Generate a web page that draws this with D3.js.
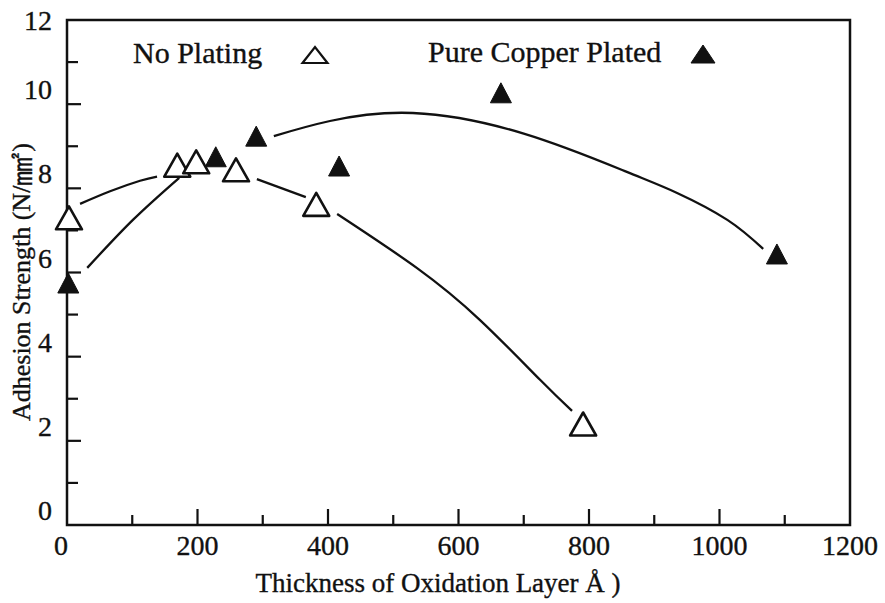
<!DOCTYPE html>
<html>
<head>
<meta charset="utf-8">
<script src="https://cdn.jsdelivr.net/npm/d3@7"></script>
<style>
  body { margin: 0; background: #fff; }
  svg text { font-family: "Liberation Serif", "DejaVu Serif", serif; fill: #111; stroke: #111; stroke-width: 0.35; }
</style>
</head>
<body>
<div id="chart"></div>
<script>
// measured points: [thickness (A), adhesion strength (N/mm2)]
var noPlating = [[3, 7.3], [169, 8.55], [198, 8.63], [259, 8.44], [382, 7.62], [791, 2.4]],
    copperPlated = [[2, 5.75], [228, 8.75], [290, 9.24], [417, 8.53], [665, 10.27], [1088, 6.44]];

// hand drawn trend curves, broken where they meet the markers
var noPlatingCurve = [
    [[20, 7.63], [66, 7.93], [112, 8.18], [138, 8.28]],
    [[291, 8.22], [366, 7.79]],
    [[414, 7.39], [536, 6.11], [633, 4.87], [725, 3.45], [774, 2.71]]
],
copperCurve = [
    [[31, 6.11], [101, 7.25], [172, 8.25]],
    [[317, 9.24], [403, 9.6], [530, 9.79], [700, 9.3], [858, 8.39], [935, 7.89], [1012, 7.25], [1067, 6.56]]
];

var xTicks = [0, 200, 400, 600, 800, 1000, 1200],
    yTicks = [0, 2, 4, 6, 8, 10, 12];

var width = 885, height = 603,
    margin = { left: 67, right: 850, top: 20, bottom: 525 };

var svg = d3.select("#chart").append("svg")
    .attr("width", width)
    .attr("height", height);

var x = d3.scaleLinear().domain([0, 1200]).range([margin.left, margin.right]),
    y = d3.scaleLinear().domain([0, 12]).range([margin.bottom, margin.top]);

// frame
svg.append("rect")
    .attr("x", margin.left).attr("y", margin.top)
    .attr("width", margin.right - margin.left).attr("height", margin.bottom - margin.top)
    .attr("fill", "none").attr("stroke", "#111").attr("stroke-width", 2.5);

// x ticks every 100, long ones at the labelled values
svg.append("g")
    .selectAll("line")
    .data(d3.range(100, 1200, 100))
    .enter().append("line")
        .attr("x1", function(d) { return x(d); })
        .attr("x2", function(d) { return x(d); })
        .attr("y1", margin.bottom)
        .attr("y2", function(d) { return margin.bottom - (d % 200 === 0 ? 16 : 10); })
        .attr("stroke", "#111").attr("stroke-width", 2.2);

svg.append("g")
    .selectAll("text")
    .data(xTicks)
    .enter().append("text")
        .attr("x", function(d) { return x(d) - (d === 0 ? 6 : 0); })
        .attr("y", 555)
        .attr("text-anchor", "middle")
        .attr("font-size", 28)
        .text(function(d) { return d; });

// y ticks every 1
svg.append("g")
    .selectAll("line")
    .data(d3.range(1, 12))
    .enter().append("line")
        .attr("x1", margin.left)
        .attr("x2", function(d) { return margin.left + (d % 2 === 0 ? 14 : 11); })
        .attr("y1", function(d) { return y(d); })
        .attr("y2", function(d) { return y(d); })
        .attr("stroke", "#111").attr("stroke-width", 2.2);

svg.append("g")
    .selectAll("text")
    .data(yTicks)
    .enter().append("text")
        .attr("x", 52)
        .attr("y", function(d) { return y(d) + (d === 12 ? 10 : -5); })
        .attr("text-anchor", "end")
        .attr("font-size", 28)
        .text(function(d) { return d; });

// axis titles
svg.append("text")
    .attr("x", 438).attr("y", 592)
    .attr("text-anchor", "middle")
    .attr("font-size", 27)
    .text("Thickness of Oxidation Layer  Å )");

var yTitle = svg.append("text")
    .attr("transform", "translate(30,282) rotate(-90)")
    .attr("text-anchor", "middle")
    .attr("font-size", 26);
yTitle.append("tspan").text("Adhesion Strength (N/");
yTitle.append("tspan").attr("font-size", 34).attr("dy", 2).text("㎟");
yTitle.append("tspan").attr("dy", -2).text(")");

// curves
var line = d3.line()
    .x(function(d) { return x(d[0]); })
    .y(function(d) { return y(d[1]); })
    .curve(d3.curveNatural);

svg.append("g")
    .selectAll("path")
    .data(noPlatingCurve.concat(copperCurve))
    .enter().append("path")
        .attr("d", line)
        .attr("fill", "none")
        .attr("stroke", "#111")
        .attr("stroke-width", 2.3);

function tri(w, h) {
    return "M" + (-w / 2) + "," + (h / 2) + "L0," + (-h / 2) + "L" + (w / 2) + "," + (h / 2) + "Z";
}

// markers
svg.append("g")
    .selectAll("path")
    .data(noPlating)
    .enter().append("path")
        .attr("transform", function(d) { return "translate(" + x(d[0]) + "," + y(d[1]) + ")"; })
        .attr("d", tri(26, 23))
        .attr("fill", "#fff")
        .attr("stroke", "#111")
        .attr("stroke-width", 2.6)
        .attr("stroke-linejoin", "round");

svg.append("g")
    .selectAll("path")
    .data(copperPlated)
    .enter().append("path")
        .attr("transform", function(d) { return "translate(" + x(d[0]) + "," + y(d[1]) + ")"; })
        .attr("d", tri(21, 20))
        .attr("fill", "#111")
        .attr("stroke", "#111")
        .attr("stroke-width", 1);

// legend
svg.append("text")
    .attr("x", 133).attr("y", 63)
    .attr("font-size", 30)
    .text("No Plating");
svg.append("path")
    .attr("transform", "translate(315,55)")
    .attr("d", tri(25, 16))
    .attr("fill", "#fff").attr("stroke", "#111").attr("stroke-width", 2.2);

svg.append("text")
    .attr("x", 428).attr("y", 62)
    .attr("font-size", 30)
    .text("Pure Copper Plated");
svg.append("path")
    .attr("transform", "translate(703,54)")
    .attr("d", tri(24, 18))
    .attr("fill", "#111").attr("stroke", "#111").attr("stroke-width", 1);
</script>
</body>
</html>
